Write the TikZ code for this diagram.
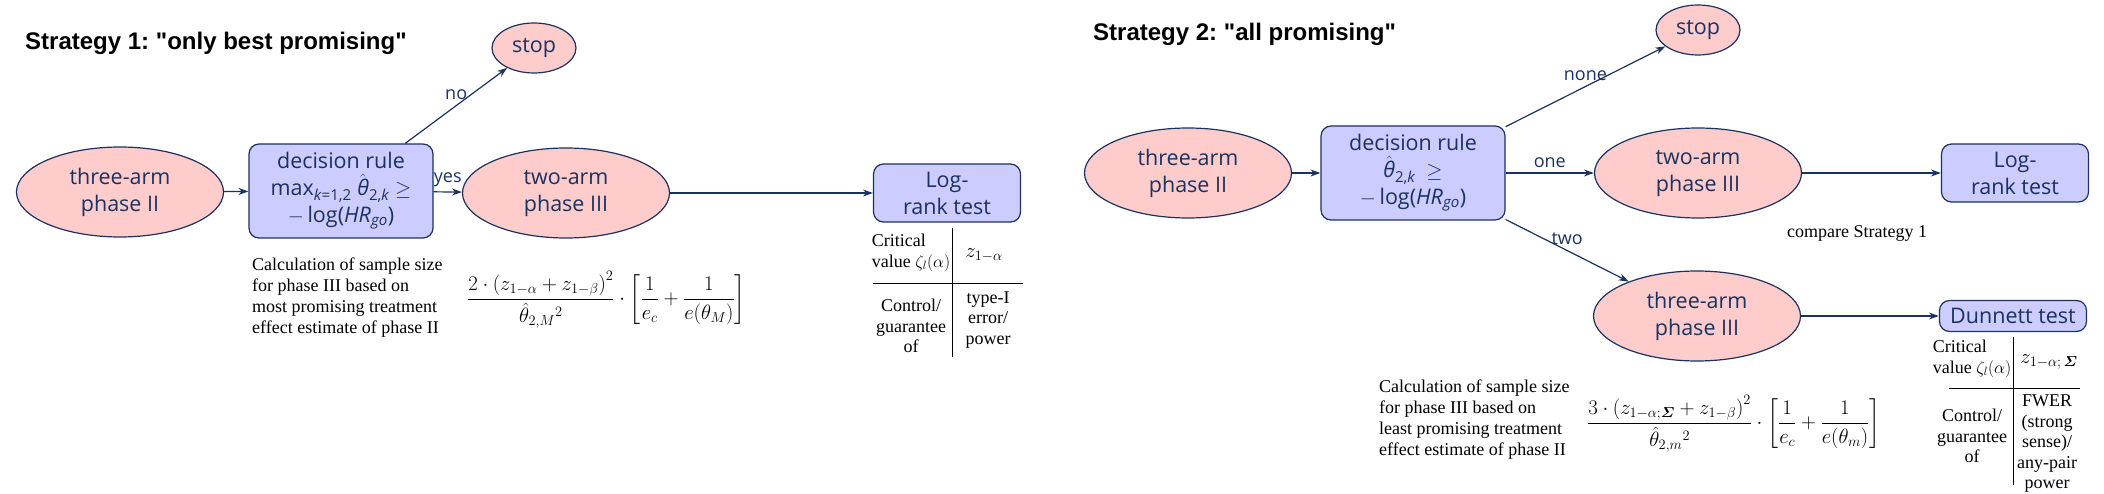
\documentclass[tikz,border=0pt]{standalone}
\usepackage[no-math]{fontspec}
\usepackage{amsmath}
\setmainfont{Liberation Serif}
\newfontfamily\nodefont{Open Sans}
\newfontfamily\titlefont{Liberation Sans}
\usetikzlibrary{shapes.geometric,arrows.meta}
\definecolor{navy}{HTML}{1B3160}
\definecolor{armfill}{HTML}{FFCCCC}
\definecolor{rulefill}{HTML}{CCCCFF}

\begin{document}
\frenchspacing
\begin{tikzpicture}
[
    x=1pt, y=-1pt,
    phase/.style={ellipse, draw=navy, line width=1.2pt, fill=armfill, text=navy, inner sep=0pt,
        minimum width=207pt, minimum height=90pt, align=center, font=\nodefont\fontsize{21.5}{27}\selectfont},
    stopnode/.style={phase, minimum width=84pt, minimum height=50pt},
    rulebox/.style={rectangle, rounded corners=10pt, draw=navy, line width=1.2pt, fill=rulefill, text=navy,
        inner sep=0pt, minimum width=184pt, minimum height=94pt, align=center, font=\nodefont\fontsize{21.5}{27}\selectfont},
    testbox/.style={rulebox, minimum width=147pt, minimum height=58pt},
    flow/.style={draw=navy, line width=1.2pt, -{Stealth[length=10pt,width=7pt]}},
    lbl/.style={text=navy, font=\nodefont\fontsize{18}{20}\selectfont, inner sep=0pt, above=5pt},
    note/.style={font=\fontsize{18}{21}\selectfont, inner sep=0pt, align=left, anchor=west},
    heading/.style={font=\titlefont\bfseries\fontsize{24}{28}\selectfont, inner sep=0pt, anchor=west},
    cell/.style={font=\fontsize{18}{20.5}\selectfont, inner sep=0pt, align=center},
    grid/.style={line width=1pt, black},
]
\useasboundingbox (0,0) rectangle (2104,494);

% Strategy 1
\node [heading] (head1) at (25,43) {Strategy 1: "only best promising"};
\node [phase] (ph2a) at (120,192) {three-arm\\phase II};
\node [rulebox] (rule1) at (341,191)
    {decision rule\\max\textsubscript{\textit{k}=1,2} $\hat{\textit{θ}}$\textsubscript{2,\textit{k}} $\geq$\\$-$\,log(\textit{HR}\textsubscript{\textit{go}})};
\node [stopnode] (stop1) at (534,48) {stop};
\node [phase] (ph3a) at (566,193) {two-arm\\phase III};
\node [testbox] (lr1) at (947,193) {Log-\\rank test};

\draw [flow] (ph2a) -- (rule1);
\draw [flow] (rule1) -- node[lbl] {no} (stop1);
\draw [flow] (rule1) -- node[lbl] {yes} (ph3a);
\draw [flow] (ph3a) -- (lr1);

\node [note] (calc1) at (252,298)
    {Calculation of sample size\\for phase III based on\\most promising treatment\\effect estimate of phase II};
\node [note, font=\fontsize{20}{24}\selectfont] (form1) at (467,300)
    {$\displaystyle\frac{2\cdot\left(z_{1-\alpha}+z_{1-\beta}\right)^{2}}{\hat{\theta}_{2,M}{}^{2}}\cdot\left[\frac{1}{e_c}+\frac{1}{e(\theta_M)}\right]$};

\draw [grid] (952,228) -- (952,357);
\draw [grid] (873,284) -- (1023,284);
\node [cell, align=left] (crit1) at (911,253) {Critical\\value $\zeta_l(\alpha)$};
\node [cell, font=\fontsize{21}{24}\selectfont] (zval1) at (984,255) {$z_{1-\alpha}$};
\node [cell] (ctrl1) at (911,326) {Control/\\guarantee\\of};
\node [cell] (err1) at (988,320) {type-I\\error/\\power};

% Strategy 2
\node [heading] (head2) at (1093,34) {Strategy 2: "all promising"};
\node [phase] (ph2b) at (1188,173) {three-arm\\phase II};
\node [rulebox] (rule2) at (1413,173)
    {decision rule\\$\hat{\textit{θ}}$\textsubscript{2,\textit{k}}\enspace$\geq$\\$-$\,log(\textit{HR}\textsubscript{\textit{go}})};
\node [stopnode] (stop2) at (1698,30) {stop};
\node [phase] (ph3b) at (1698,173) {two-arm\\phase III};
\node [testbox] (lr2) at (2015,173) {Log-\\rank test};
\node [phase] (ph3c) at (1697,316) {three-arm\\phase III};
\node [testbox, minimum height=31pt] (dun2) at (2013,316) {Dunnett test};

\draw [flow] (ph2b) -- (rule2);
\draw [flow] (rule2) -- node[lbl] {none} (stop2);
\draw [flow] (rule2) -- node[lbl] {one} (ph3b);
\draw [flow] (rule2) -- node[lbl] {two} (ph3c);
\draw [flow] (ph3b) -- (lr2);
\draw [flow] (ph3c) -- (dun2);

\node [note, anchor=center] (cmp2) at (1857,233) {compare Strategy 1};
\node [note] (calc2) at (1379,420)
    {Calculation of sample size\\for phase III based on\\least promising treatment\\effect estimate of phase II};
\node [note, font=\fontsize{20}{24}\selectfont] (form2) at (1587,424)
    {$\displaystyle\frac{3\cdot\left(z_{1-\alpha;\boldsymbol{\varSigma}}+z_{1-\beta}\right)^{2}}{\hat{\theta}_{2,m}{}^{2}}\cdot\left[\frac{1}{e_c}+\frac{1}{e(\theta_m)}\right]$};

\draw [grid] (2013,337) -- (2013,485);
\draw [grid] (1949,388) -- (2080,388);
\node [cell, align=left] (crit2) at (1972,359) {Critical\\value $\zeta_l(\alpha)$};
\node [cell, font=\fontsize{21}{24}\selectfont] (zval2) at (2049,362) {$z_{1-\alpha;\,\boldsymbol{\varSigma}}$};
\node [cell] (ctrl2) at (1972,436) {Control/\\guarantee\\of};
\node [cell] (err2) at (2047,444) {FWER\\(strong\\sense)/\\any-pair\\power};
\end{tikzpicture}
\end{document}
